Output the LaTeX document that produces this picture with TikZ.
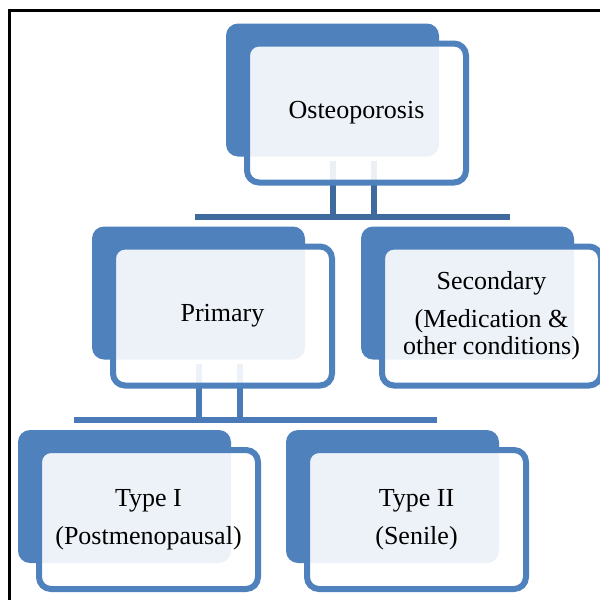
\documentclass[tikz,border=0pt]{standalone}
\usepackage{fontspec}
\setmainfont{Liberation Serif}
\usetikzlibrary{positioning}
\pgfdeclarelayer{backbox}
\pgfdeclarelayer{links}
\pgfsetlayers{backbox,links,main}
\definecolor{boxblue}{HTML}{4F81BD}
\definecolor{linkdark}{HTML}{3F6A9E}
\definecolor{linkblue}{HTML}{4A7AB8}

\begin{document}
\begin{tikzpicture}[x=1pt,y=-1pt,
  shadowbox/.style={fill=boxblue,rounded corners=12pt,minimum width=213pt,minimum height=133pt,inner sep=0,outer sep=0},
  topic/.style={draw=boxblue,line width=6pt,fill=white,fill opacity=0.9,text opacity=1,rounded corners=12pt,
    minimum width=219pt,minimum height=139pt,inner sep=0,outer sep=0,align=center,font=\fontsize{26}{27}\selectfont},
  link/.style={line width=6pt}]
\useasboundingbox (0,0) rectangle (600,600);
\draw[line width=3pt] (9.5,620)--(9.5,10.5)--(620,10.5);

\node[topic] (ost) at (356.5,113) {Osteoporosis};
\node[topic] (prim) at (222.5,316) {Primary};
\node[topic] (sec) at (491.5,316) {Secondary\\[11pt](Medication \&\\other conditions)};
\node[topic] (typeone) at (148.5,519.5) {Type I\\[11pt](Postmenopausal)};
\node[topic] (typetwo) at (416.5,519.5) {Type II\\[11pt](Senile)};

\begin{pgfonlayer}{backbox}
\foreach \n in {ost,prim,sec,typeone,typetwo}
  \node[shadowbox] (\n back) at ([shift={(-24,-23)}]\n.center) {};
\end{pgfonlayer}

\coordinate (ostbarL) at (195,217);
\coordinate (ostbarR) at (510,217);
\coordinate (primbarL) at (74,420);
\coordinate (primbarR) at (437,420);

\begin{pgfonlayer}{links}
\draw[link,linkdark] (ostbarL)--(ostbarR);
\draw[link,linkdark] ([xshift=-24pt,yshift=22pt]ost.south)--([xshift=-24pt]ost.south |- ostbarL);
\draw[link,linkdark] ([xshift=17pt,yshift=22pt]ost.south)--([xshift=17pt]ost.south |- ostbarL);
\draw[link,linkblue] (primbarL)--(primbarR);
\draw[link,linkblue] ([xshift=-24pt,yshift=22pt]prim.south)--([xshift=-24pt]prim.south |- primbarL);
\draw[link,linkblue] ([xshift=17pt,yshift=22pt]prim.south)--([xshift=17pt]prim.south |- primbarL);
\end{pgfonlayer}
\end{tikzpicture}
\end{document}
